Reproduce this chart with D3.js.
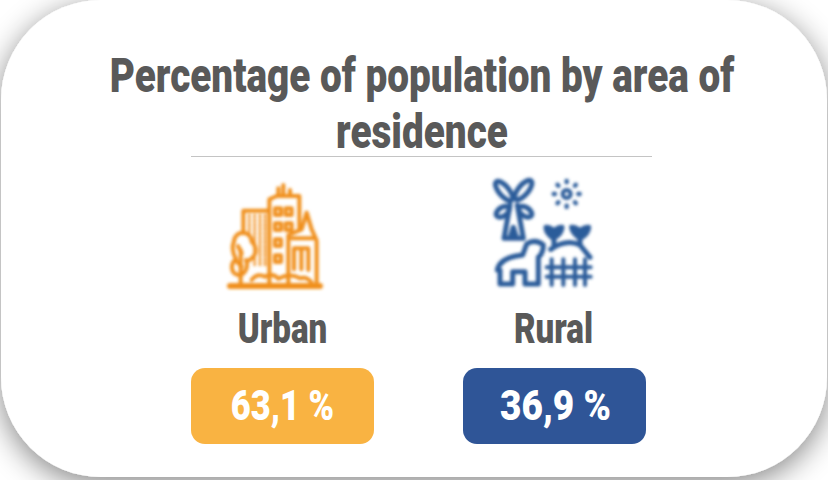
<!DOCTYPE html>
<html>
<head>
<meta charset="utf-8">
<script src="https://cdnjs.cloudflare.com/ajax/libs/d3/7.8.5/d3.min.js"></script>
<style>
html,body{margin:0;padding:0;background:#fff;overflow:hidden}
svg{display:block}
text{font-family:Roboto,"Liberation Sans",sans-serif;font-weight:900}
</style>
</head>
<body>
<svg id="chart" width="828" height="480"></svg>
<script>
const titleLines = ["Percentage of population by area of", "residence"];
const areas = ["Urban", "Rural"];
const shares = [63.1, 36.9];
const fills = ["#F9B342", "#2F5597"];
const iconColors = ["#F0901E", "#2B5C9A"];

const svg = d3.select("#chart");
const defs = svg.append("defs");

const shadow = defs.append("filter").attr("id", "cardShadow")
  .attr("x", "-10%").attr("y", "-10%").attr("width", "120%").attr("height", "120%");
shadow.append("feDropShadow")
  .attr("dx", 0).attr("dy", 7).attr("stdDeviation", 15)
  .attr("flood-color", "#000").attr("flood-opacity", 0.48);

defs.append("filter").attr("id", "soft")
  .attr("x", "-10%").attr("y", "-10%").attr("width", "120%").attr("height", "120%")
  .append("feGaussianBlur").attr("stdDeviation", 4);

// Card
svg.append("rect")
  .attr("x", 1).attr("y", 0).attr("width", 826).attr("height", 477)
  .attr("rx", 100).attr("ry", 100)
  .attr("fill", "#fff")
  .attr("filter", "url(#cardShadow)");

// Horizontally condensed heavy text, centred on x
function label(parent, str, x, y, size, squeeze, color) {
  return parent.append("text")
    .attr("transform", `translate(${x},${y}) scale(${squeeze},1)`)
    .attr("text-anchor", "middle")
    .attr("font-size", size)
    .attr("fill", color)
    .text(str);
}

const titleY = d3.scalePoint().domain(titleLines).range([92, 148]);
titleLines.forEach(line => label(svg, line, 422, titleY(line), 49, 0.79, "#595959"));

svg.append("line")
  .attr("x1", 191).attr("x2", 652).attr("y1", 156.5).attr("y2", 156.5)
  .attr("stroke", "#c4c4c4").attr("stroke-width", 1);

// Column layout
const x = d3.scaleBand().domain(areas).range([191, 646]).paddingInner(89 / 272);

const column = svg.selectAll("g.area").data(areas).join("g")
  .attr("class", "area")
  .attr("transform", d => `translate(${x(d)},0)`);

column.append("rect")
  .attr("y", 368).attr("height", 76)
  .attr("width", x.bandwidth())
  .attr("rx", 14)
  .attr("fill", (d, i) => fills[i]);

column.each(function (d, i) {
  const g = d3.select(this);
  const cx = x.bandwidth() / 2;
  label(g, d, cx - (i ? 1 : 0), 343, 42, 0.79, "#595959");
  // The narrow "1" makes the first figure shorter, so the second gets a wider set
  label(g, `${String(shares[i]).replace(".", ",")} %`, cx + (i ? 1 : 0), 420, 42, i ? 0.88 : 0.82, "#fff");
});

// Urban icon: skyline with a tree
const urban = svg.append("g")
  .attr("transform", "translate(210,170) scale(0.3333)")
  .attr("fill", "none").attr("stroke", iconColors[0])
  .attr("stroke-width", 12).attr("stroke-linejoin", "round").attr("stroke-linecap", "round")
  .attr("filter", "url(#soft)");
urban.append("path").attr("stroke-width", 18).attr("d", "M60 348H330");
urban.append("path").attr("d", "M172 122H100V190M178 340V88L200 78H268V175");
urban.append("path").attr("d", "M205 78V55M220 78V45M240 78V60");
urban.append("path").attr("stroke-width", 7).attr("stroke-dasharray", "7 6")
  .attr("d", "M118 135V195M134 135V290M150 135V290M165 135V290");
urban.selectAll("rect.win")
  .data([[195, 115], [227, 115], [195, 160], [227, 160], [195, 208], [195, 256]])
  .join("rect").attr("class", "win")
  .attr("x", d => d[0]).attr("y", d => d[1]).attr("width", 18).attr("height", 20);
urban.append("path").attr("d", "M235 340V195L275 178L290 128L305 178L320 212V340");
urban.append("path").attr("d", "M252 298V235H295V300M274 235V298M245 205L310 205");
urban.append("path")
  .attr("d", "M92 342V240M72 215A26 26 0 1 1 125 215C138 225 142 250 128 262C120 272 112 272 108 270C118 295 100 318 85 315C62 312 60 280 78 268C68 250 65 228 72 215Z");
urban.append("path").attr("d", "M95 250L84 228M95 290L80 275");
urban.append("path").attr("d", "M125 330Q140 308 165 320Q190 308 205 326Q240 308 270 325Q290 318 305 338");

// Rural icon: windmill, sun, plants, animal and fence
const rural = svg.append("g")
  .attr("transform", "translate(480,170) scale(0.3333)")
  .attr("fill", "none").attr("stroke", iconColors[1])
  .attr("stroke-width", 15).attr("stroke-linejoin", "round").attr("stroke-linecap", "round")
  .attr("filter", "url(#soft)");
rural.selectAll("ellipse.sail")
  .data([[72, 63, 36, 15, 50], [130, 60, 36, 15, -50], [68, 125, 22, 13, -35], [136, 125, 22, 13, 35]])
  .join("ellipse").attr("class", "sail")
  .attr("rx", d => d[2]).attr("ry", d => d[3])
  .attr("transform", d => `translate(${d[0]},${d[1]}) rotate(${d[4]})`);
rural.append("path").attr("d", "M90 105L72 205H130L112 105M92 198L100 172L108 198");
rural.append("circle").attr("cx", 260).attr("cy", 72).attr("r", 12).attr("stroke-width", 12);
rural.selectAll("line.ray").data(d3.range(8)).join("line").attr("class", "ray")
  .attr("x1", a => 260 + 35 * Math.cos(a * Math.PI / 4))
  .attr("y1", a => 72 + 35 * Math.sin(a * Math.PI / 4))
  .attr("x2", a => 260 + 39 * Math.cos(a * Math.PI / 4))
  .attr("y2", a => 72 + 39 * Math.sin(a * Math.PI / 4))
  .attr("stroke-width", 13);
rural.append("path").attr("fill", iconColors[1]).attr("d", "M220 205Q198 190 198 172Q212 172 222 184Q232 172 246 172Q245 192 220 205Z M300 205Q277 190 275 172Q290 172 300 184Q310 172 326 172Q325 192 300 205Z");
rural.append("path").attr("d", "M222 205V225M300 205V225M212 238Q260 205 300 225L330 262");
rural.append("path").attr("d", "M52 300Q60 262 128 255L140 222Q165 205 190 225Q190 250 175 262V342H135V305H98V342H60V300Z");
rural.append("path").attr("stroke-width", 12).attr("d", "M200 292H332M200 320H332M215 268V345M250 268V345M285 268V345M315 268V345");

</script>
</body>
</html>
